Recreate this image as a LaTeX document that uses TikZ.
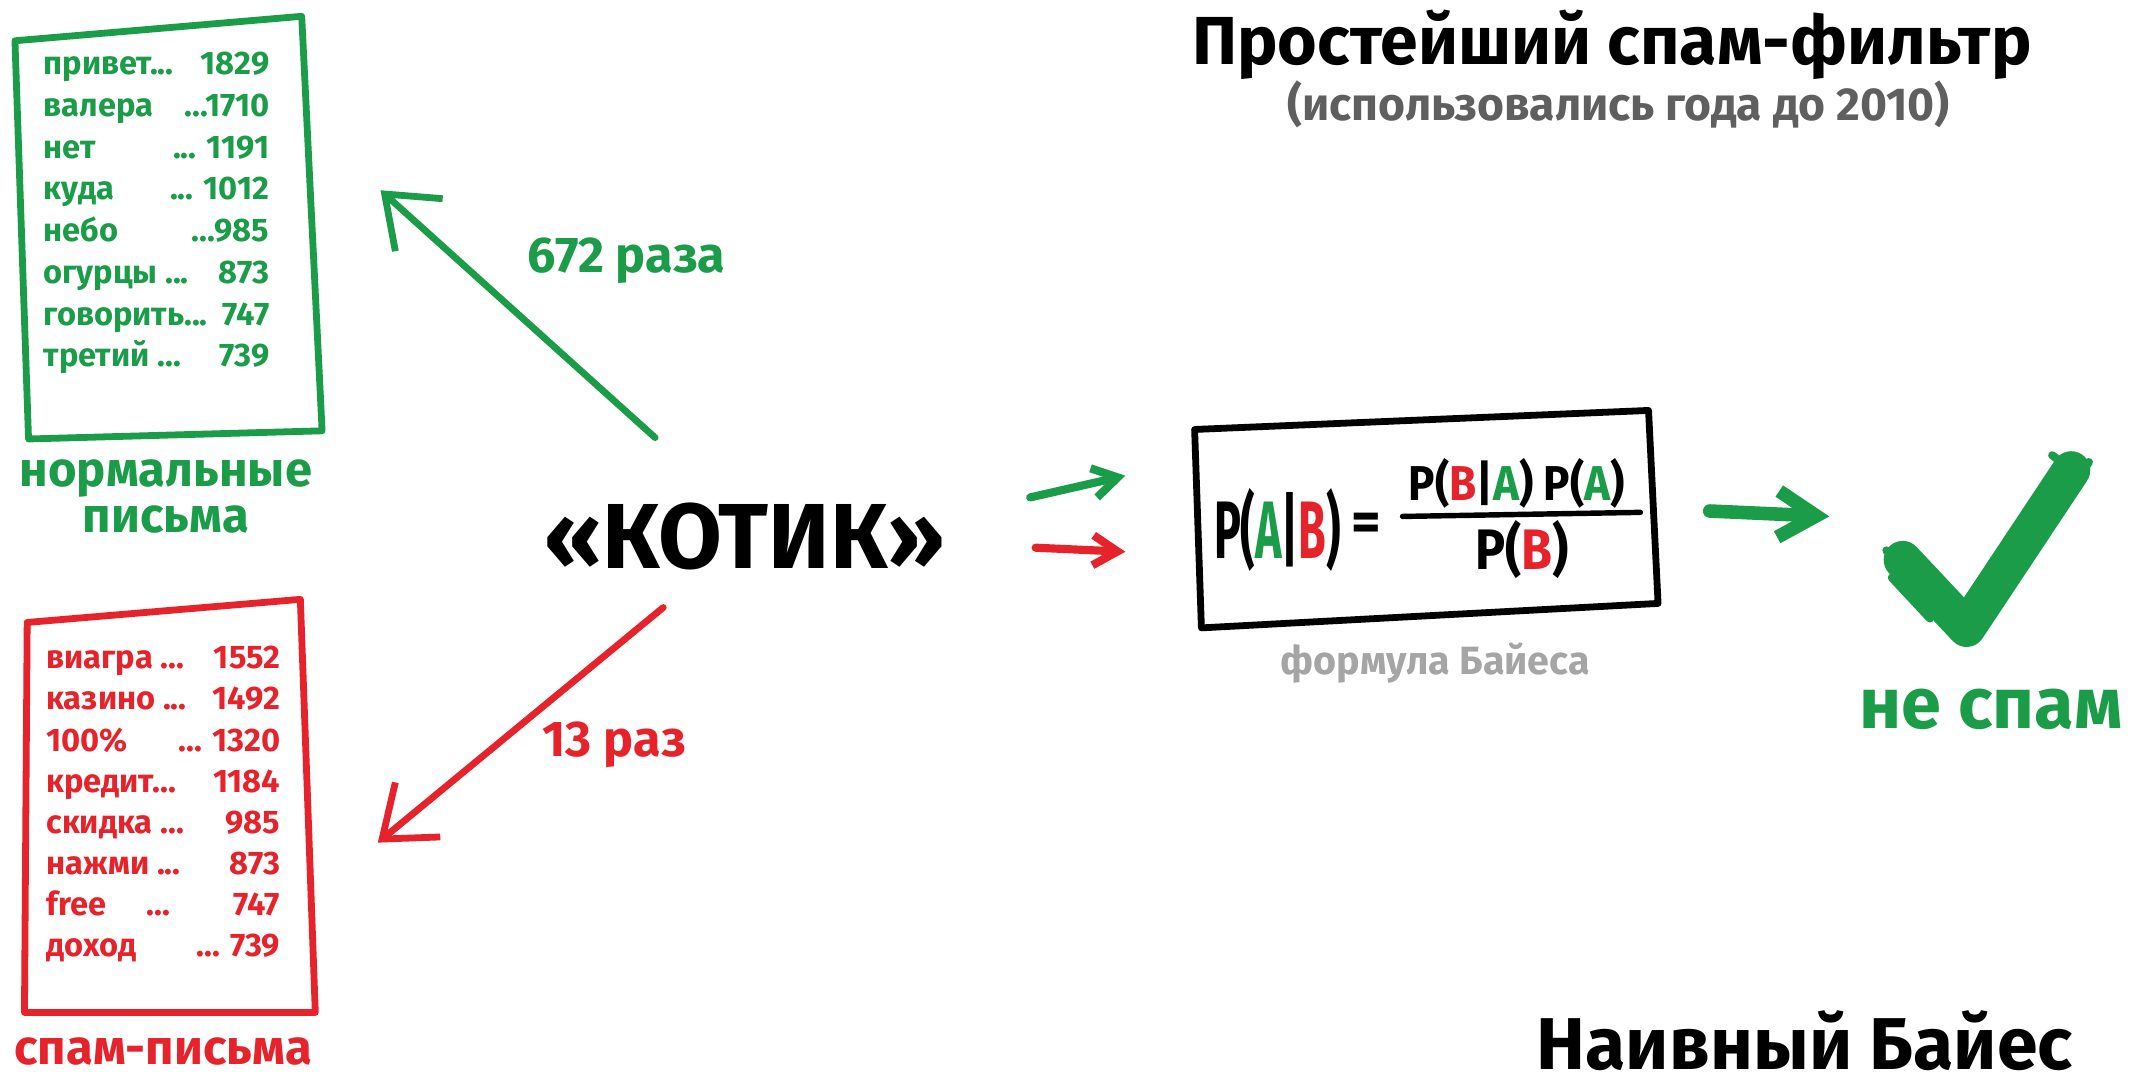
\documentclass[tikz,border=0pt]{standalone}
\usepackage{fontspec}
\usepackage{graphicx}
\setmainfont{Fira Sans}
\usetikzlibrary{arrows.meta}
\definecolor{gr}{RGB}{26,156,72}
\definecolor{rd}{RGB}{230,35,42}
\definecolor{gy}{RGB}{165,165,165}
\definecolor{dgy}{RGB}{95,95,95}
\newcommand{\fsz}[1]{\fontsize{#1}{#1}\selectfont}
\newcommand{\grow}[2]{\makebox[166pt][l]{#1\hfill #2}}
\newcommand{\rrow}[2]{\makebox[172pt][l]{#1\hfill #2}}
\begin{document}
\begin{tikzpicture}[x=1pt,y=-1pt,
  txt/.style={inner sep=0pt,font=\bfseries},
  boxline/.style={line width=5pt,line join=round,line cap=round},
  bigarrow/.style={line width=5pt,line cap=round,-{Straight Barb[length=34pt,width=52pt,line width=5pt]}},
  smallarrow/.style={line width=6pt,line cap=round,-{Straight Barb[length=18pt,width=22pt,line width=6pt]}},
  fatarrow/.style={line width=10pt,line cap=round,-{Straight Barb[length=28pt,width=34pt,line width=10pt]}}]
\useasboundingbox[fill=white] (0,0) rectangle (1568,800);

% titles
\node[txt,font={\bfseries\fsz{50}}] (title) at (1186,33) {Простейший спам-фильтр};
\node[txt,text=dgy,font={\bfseries\fsz{34}}] (subtitle) at (1191,77) {(использовались года до 2010)};
\node[txt,font={\bfseries\fsz{54}}] (naive) at (1328,766) {Наивный Байес};

% green letter box
\draw[boxline,gr] (11,30) -- (222,12) -- (237,317) -- (21,323) -- cycle;
\node[txt,text=gr,anchor=base west] (glist) at (32,55) {\fontsize{24}{30.7}\selectfont
\begin{tabular}[t]{@{}l@{}}
\grow{привет...}{1829}\\
\grow{валера}{...1710}\\
\grow{нет}{... 1191}\\
\grow{куда}{... 1012}\\
\grow{небо}{...985}\\
\grow{огурцы ...}{873}\\
\grow{говорить...}{747}\\
\grow{третий ...}{739}
\end{tabular}};
\node[txt,text=gr,font={\bfseries\fsz{36}}] (glabel1) at (122,352) {нормальные};
\node[txt,text=gr,font={\bfseries\fsz{36}}] (glabel2) at (122,382) {письма};

% red letter box
\draw[boxline,rd] (20,458) -- (221,441) -- (232,745) -- (18,745) -- cycle;
\node[txt,text=rd,anchor=base west] (rlist) at (34,492) {\fontsize{24}{30.3}\selectfont
\begin{tabular}[t]{@{}l@{}}
\rrow{виагра ...}{1552}\\
\rrow{казино ...}{1492}\\
\rrow{100\%}{... 1320}\\
\rrow{кредит...}{1184}\\
\rrow{скидка ...}{985}\\
\rrow{нажми ...}{873}\\
\rrow{free \quad ...}{747}\\
\rrow{доход}{... 739}
\end{tabular}};
\node[txt,text=rd,font={\bfseries\fsz{36}}] (rlabel) at (120,774) {спам-письма};

% word
\node[txt,font={\bfseries\fsz{68}}] (kotik) at (548,395) {«КОТИК»};

% big arrows
\coordinate (g1) at (482,322);
\coordinate (g2) at (280,140);
\coordinate (r1) at (488,447);
\coordinate (r2) at (278,620);
\draw[bigarrow,gr] (g1) -- (g2);
\draw[bigarrow,rd] (r1) -- (r2);
\node[txt,text=gr,font={\bfseries\fsz{37}}] (glab) at (461,192) {672 раза};
\node[txt,text=rd,font={\bfseries\fsz{37}}] (rlab) at (452,548) {13 раз};

% small arrows into formula
\coordinate (sg1) at (758,366);
\coordinate (sg2) at (828,350);
\coordinate (sr1) at (762,403);
\coordinate (sr2) at (828,406);
\draw[smallarrow,gr] (sg1) -- (sg2);
\draw[smallarrow,rd] (sr1) -- (sr2);

% formula box
\draw[boxline] (879,316) -- (1213,302) -- (1220,444) -- (884,462) -- cycle;
\node[txt,font={\bfseries\fsz{60}}] (lhs) at (940,390) {\scalebox{0.55}[1]{P(\textcolor{gr}{A}|\textcolor{rd}{B})}};
\node[txt,font={\bfseries\fsz{42}}] (eq) at (1005,388) {=};
\node[txt,font={\bfseries\fsz{36}}] (num) at (1116,356) {\scalebox{0.9}[1]{P(\textcolor{rd}{B}|\textcolor{gr}{A}) P(\textcolor{gr}{A})}};
\node[txt,font={\bfseries\fsz{42}}] (den) at (1120,404) {\scalebox{0.88}[1]{P(\textcolor{rd}{B})}};
\draw[line width=4pt,line cap=round] (1032,380) -- (1207,377);
\node[txt,text=gy,font={\bfseries\fsz{29}}] (fcap) at (1056,488) {формула Байеса};

% arrow to check
\coordinate (c1) at (1258,376);
\coordinate (c2) at (1346,380);
\draw[fatarrow,gr] (c1) -- (c2);

% check mark
\draw[gr,line width=28pt,line cap=round,line join=round] (1400,412) -- (1447,462) -- (1524,346);
\draw[gr,line width=6pt,line cap=round] (1388,405) -- (1420,440);
\draw[gr,line width=6pt,line cap=round] (1392,425) -- (1420,455);
\draw[gr,line width=6pt,line cap=round] (1510,335) -- (1530,350);
\draw[gr,line width=6pt,line cap=round] (1537,340) -- (1520,365);
\node[txt,text=gr,font={\bfseries\fsz{53}}] (notspam) at (1465,522) {не спам};
\end{tikzpicture}
\end{document}
